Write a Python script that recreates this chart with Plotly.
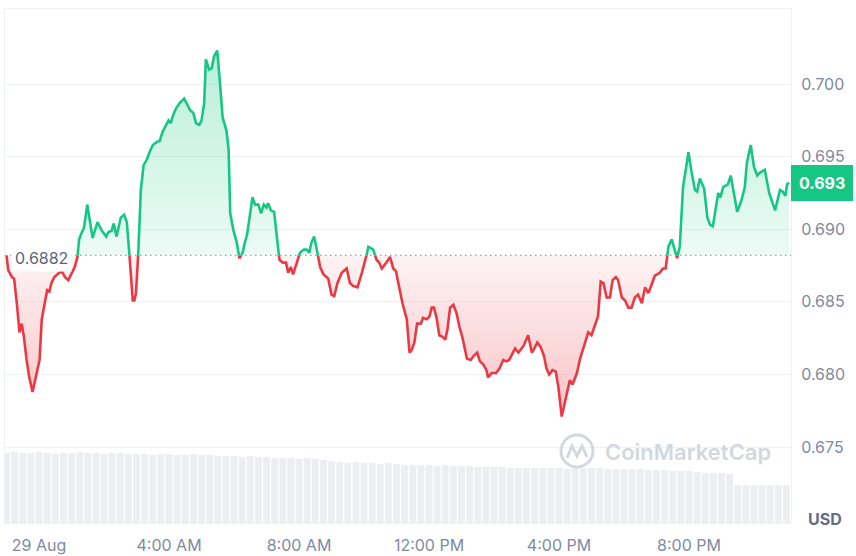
import numpy as np
import pandas as pd
import plotly.graph_objects as go

# ---------------- data ----------------
base_price = 0.6882
last_label = "0.693"

times = [
    "2023-08-28 23:00", "2023-08-28 23:03", "2023-08-28 23:10", "2023-08-28 23:14", "2023-08-28 23:19",
    "2023-08-28 23:24", "2023-08-28 23:28", "2023-08-28 23:32", "2023-08-28 23:37", "2023-08-28 23:42",
    "2023-08-28 23:48", "2023-08-28 23:56",
    "2023-08-29 00:01", "2023-08-29 00:05", "2023-08-29 00:11", "2023-08-29 00:15", "2023-08-29 00:19",
    "2023-08-29 00:23", "2023-08-29 00:28", "2023-08-29 00:33", "2023-08-29 00:37", "2023-08-29 00:42",
    "2023-08-29 00:48", "2023-08-29 00:54", "2023-08-29 01:00", "2023-08-29 01:06", "2023-08-29 01:11",
    "2023-08-29 01:14", "2023-08-29 01:19", "2023-08-29 01:23", "2023-08-29 01:29", "2023-08-29 01:34",
    "2023-08-29 01:39", "2023-08-29 01:48", "2023-08-29 01:56", "2023-08-29 02:04", "2023-08-29 02:08",
    "2023-08-29 02:14", "2023-08-29 02:18", "2023-08-29 02:23", "2023-08-29 02:31", "2023-08-29 02:37",
    "2023-08-29 02:42", "2023-08-29 02:47", "2023-08-29 02:53", "2023-08-29 02:56", "2023-08-29 02:59",
    "2023-08-29 03:03", "2023-08-29 03:08", "2023-08-29 03:13", "2023-08-29 03:19", "2023-08-29 03:24",
    "2023-08-29 03:30", "2023-08-29 03:37", "2023-08-29 03:43", "2023-08-29 03:48", "2023-08-29 03:54",
    "2023-08-29 03:59", "2023-08-29 04:03", "2023-08-29 04:08", "2023-08-29 04:14", "2023-08-29 04:20",
    "2023-08-29 04:28", "2023-08-29 04:34", "2023-08-29 04:39", "2023-08-29 04:45", "2023-08-29 04:50",
    "2023-08-29 04:56", "2023-08-29 05:00", "2023-08-29 05:05", "2023-08-29 05:08", "2023-08-29 05:14",
    "2023-08-29 05:19", "2023-08-29 05:23", "2023-08-29 05:29", "2023-08-29 05:34", "2023-08-29 05:39",
    "2023-08-29 05:46", "2023-08-29 05:50", "2023-08-29 05:53", "2023-08-29 05:59", "2023-08-29 06:05",
    "2023-08-29 06:10", "2023-08-29 06:16", "2023-08-29 06:20", "2023-08-29 06:24", "2023-08-29 06:34",
    "2023-08-29 06:39", "2023-08-29 06:45", "2023-08-29 06:50", "2023-08-29 06:55", "2023-08-29 07:00",
    "2023-08-29 07:03", "2023-08-29 07:08", "2023-08-29 07:14", "2023-08-29 07:19", "2023-08-29 07:24",
    "2023-08-29 07:30", "2023-08-29 07:36", "2023-08-29 07:40", "2023-08-29 07:45", "2023-08-29 07:49",
    "2023-08-29 07:56", "2023-08-29 08:02", "2023-08-29 08:09", "2023-08-29 08:14", "2023-08-29 08:19",
    "2023-08-29 08:23", "2023-08-29 08:28", "2023-08-29 08:34", "2023-08-29 08:39", "2023-08-29 08:45",
    "2023-08-29 08:54", "2023-08-29 09:00", "2023-08-29 09:05", "2023-08-29 09:11", "2023-08-29 09:19",
    "2023-08-29 09:28", "2023-08-29 09:34", "2023-08-29 09:40", "2023-08-29 09:48", "2023-08-29 09:56",
    "2023-08-29 10:04", "2023-08-29 10:08", "2023-08-29 10:17", "2023-08-29 10:23", "2023-08-29 10:28",
    "2023-08-29 10:33", "2023-08-29 10:41", "2023-08-29 10:48", "2023-08-29 10:54", "2023-08-29 10:59",
    "2023-08-29 11:05", "2023-08-29 11:11", "2023-08-29 11:19", "2023-08-29 11:24", "2023-08-29 11:28",
    "2023-08-29 11:33", "2023-08-29 11:38", "2023-08-29 11:45", "2023-08-29 11:49", "2023-08-29 11:56",
    "2023-08-29 12:01", "2023-08-29 12:05", "2023-08-29 12:09", "2023-08-29 12:14", "2023-08-29 12:19",
    "2023-08-29 12:25", "2023-08-29 12:30", "2023-08-29 12:34", "2023-08-29 12:39", "2023-08-29 12:45",
    "2023-08-29 12:51", "2023-08-29 12:56", "2023-08-29 13:02", "2023-08-29 13:10", "2023-08-29 13:17",
    "2023-08-29 13:23", "2023-08-29 13:29", "2023-08-29 13:34", "2023-08-29 13:40", "2023-08-29 13:46",
    "2023-08-29 13:49", "2023-08-29 13:56", "2023-08-29 14:04", "2023-08-29 14:10", "2023-08-29 14:17",
    "2023-08-29 14:23", "2023-08-29 14:28", "2023-08-29 14:34", "2023-08-29 14:39", "2023-08-29 14:45",
    "2023-08-29 14:51", "2023-08-29 14:55", "2023-08-29 15:03", "2023-08-29 15:10", "2023-08-29 15:16",
    "2023-08-29 15:20", "2023-08-29 15:26", "2023-08-29 15:32", "2023-08-29 15:37", "2023-08-29 15:42",
    "2023-08-29 15:48", "2023-08-29 15:54", "2023-08-29 15:59", "2023-08-29 16:05", "2023-08-29 16:14",
    "2023-08-29 16:20", "2023-08-29 16:25", "2023-08-29 16:33", "2023-08-29 16:39", "2023-08-29 16:46",
    "2023-08-29 16:54", "2023-08-29 17:00", "2023-08-29 17:06", "2023-08-29 17:12", "2023-08-29 17:17",
    "2023-08-29 17:22", "2023-08-29 17:28", "2023-08-29 17:34", "2023-08-29 17:39", "2023-08-29 17:45",
    "2023-08-29 17:49", "2023-08-29 17:56", "2023-08-29 18:02", "2023-08-29 18:08", "2023-08-29 18:14",
    "2023-08-29 18:20", "2023-08-29 18:26", "2023-08-29 18:33", "2023-08-29 18:39", "2023-08-29 18:45",
    "2023-08-29 18:51", "2023-08-29 18:57", "2023-08-29 19:06", "2023-08-29 19:12", "2023-08-29 19:17",
    "2023-08-29 19:22", "2023-08-29 19:28", "2023-08-29 19:34", "2023-08-29 19:38", "2023-08-29 19:43",
    "2023-08-29 19:49", "2023-08-29 19:59", "2023-08-29 20:05", "2023-08-29 20:11", "2023-08-29 20:15",
    "2023-08-29 20:20", "2023-08-29 20:28", "2023-08-29 20:34", "2023-08-29 20:39", "2023-08-29 20:44",
    "2023-08-29 20:54", "2023-08-29 20:58", "2023-08-29 21:03", "2023-08-29 21:12", "2023-08-29 21:17",
    "2023-08-29 21:29", "2023-08-29 21:37", "2023-08-29 21:43", "2023-08-29 21:47", "2023-08-29 21:54",
    "2023-08-29 22:00", "2023-08-29 22:06", "2023-08-29 22:11", "2023-08-29 22:20", "2023-08-29 22:28",
    "2023-08-29 22:33", "2023-08-29 22:39", "2023-08-29 22:48", "2023-08-29 22:53", "2023-08-29 22:58",
    "2023-08-29 23:01", "2023-08-29 23:05",
]

prices = [
    0.6882, 0.6872, 0.6867, 0.6866, 0.6849, 0.6829, 0.6835, 0.6826, 0.6810, 0.6798,
    0.6788, 0.6801,
    0.6810, 0.6838, 0.6849, 0.6858, 0.6857, 0.6863, 0.6867, 0.6869, 0.6870, 0.6871,
    0.6867, 0.6865, 0.6870, 0.6874, 0.6881, 0.6893, 0.6898, 0.6901, 0.6917, 0.6904,
    0.6894, 0.6905, 0.6899, 0.6895, 0.6898, 0.6899, 0.6904, 0.6895, 0.6908, 0.6910,
    0.6905, 0.6882, 0.6851, 0.6851, 0.6856, 0.6882, 0.6927, 0.6944, 0.6948, 0.6953,
    0.6958, 0.6960, 0.6961, 0.6967, 0.6971, 0.6975, 0.6973, 0.6979, 0.6984, 0.6987,
    0.6990, 0.6986, 0.6982, 0.6980, 0.6973, 0.6972, 0.6975, 0.6987, 0.7017, 0.7010,
    0.7011, 0.7019, 0.7023, 0.7001, 0.6977, 0.6968, 0.6955, 0.6911, 0.6899, 0.6891,
    0.6880, 0.6884, 0.6891, 0.6896, 0.6922, 0.6917, 0.6917, 0.6911, 0.6917, 0.6915,
    0.6918, 0.6913, 0.6912, 0.6893, 0.6879, 0.6877, 0.6877, 0.6870, 0.6874, 0.6869,
    0.6877, 0.6884, 0.6886, 0.6886, 0.6884, 0.6891, 0.6895, 0.6884, 0.6874, 0.6869,
    0.6866, 0.6855, 0.6854, 0.6863, 0.6870, 0.6873, 0.6863, 0.6861, 0.6860, 0.6870,
    0.6881, 0.6888, 0.6886, 0.6879, 0.6877, 0.6873, 0.6877, 0.6881, 0.6873, 0.6871,
    0.6860, 0.6849, 0.6838, 0.6815, 0.6817, 0.6822, 0.6835, 0.6835, 0.6839, 0.6838,
    0.6840, 0.6846, 0.6846, 0.6839, 0.6827, 0.6826, 0.6824, 0.6831, 0.6846, 0.6848,
    0.6842, 0.6833, 0.6825, 0.6811, 0.6810, 0.6813, 0.6815, 0.6809, 0.6807, 0.6803,
    0.6798, 0.6801, 0.6801, 0.6804, 0.6810, 0.6809, 0.6810, 0.6815, 0.6818, 0.6815,
    0.6818, 0.6820, 0.6827, 0.6815, 0.6819, 0.6822, 0.6819, 0.6813, 0.6804, 0.6800,
    0.6803, 0.6802, 0.6791, 0.6771, 0.6786, 0.6796, 0.6793, 0.6801, 0.6811, 0.6819,
    0.6829, 0.6827, 0.6833, 0.6840, 0.6864, 0.6863, 0.6853, 0.6853, 0.6865, 0.6867,
    0.6865, 0.6853, 0.6851, 0.6846, 0.6846, 0.6853, 0.6855, 0.6849, 0.6860, 0.6856,
    0.6862, 0.6868, 0.6870, 0.6873, 0.6873, 0.6888, 0.6893, 0.6886, 0.6880, 0.6888,
    0.6929, 0.6953, 0.6939, 0.6927, 0.6926, 0.6935, 0.6928, 0.6908, 0.6903, 0.6902,
    0.6925, 0.6922, 0.6929, 0.6931, 0.6937, 0.6912, 0.6920, 0.6929, 0.6946, 0.6958,
    0.6943, 0.6937, 0.6939, 0.6941, 0.6925, 0.6920, 0.6913, 0.6927, 0.6926, 0.6923,
    0.6931, 0.6932,
]

volume_start = "2023-08-28 23:00"
volume_step = "15min"
volume = [
    70, 71, 70, 70, 71, 70, 69, 70, 70, 71, 70, 70, 69, 70, 70, 69, 69,
    69, 68, 69, 69, 68, 68, 69, 68, 68, 67, 67,
    67, 66, 67, 66, 66, 65,
    65, 65, 64, 65, 64, 63, 62,
    61, 60, 61, 60, 60, 59, 60, 59, 58, 58,
    58, 58, 57, 58, 57, 57, 57, 56, 56, 56, 56, 55,
    55, 55, 55, 55, 55, 55, 54, 55, 55, 55, 55, 54, 54, 54, 54, 54, 53,
    53, 53, 52, 52, 52, 51,
    50, 50, 50, 49,
    38, 38, 38, 38, 38, 38, 38,
]

x_tick_times = ["2023-08-29 00:00", "2023-08-29 04:00", "2023-08-29 08:00",
                "2023-08-29 12:00", "2023-08-29 16:00", "2023-08-29 20:00"]
x_tick_text = ["29 Aug", "4:00 AM", "8:00 AM", "12:00 PM", "4:00 PM", "8:00 PM"]
y_tick_vals = [0.675, 0.680, 0.685, 0.690, 0.695, 0.700]
y_tick_text = ["0.675", "0.680", "0.685", "0.690", "0.695", "0.700"]

# ---------------- styling ----------------
GREEN = "#16c784"
RED = "#ea3943"
GRID = "#eff2f5"
TICK = "#808a9d"
W, H = 856, 556
ML, MR, MT, MB = 5, 65, 9, 33

# split series at the baseline (insert crossing points)
t_ns = pd.to_datetime(times).asi8.astype(float)
xs, ys = [], []
for i, p in enumerate(prices):
    if i > 0:
        p0 = prices[i - 1]
        if (p0 - base_price) * (p - base_price) < 0:
            f = (base_price - p0) / (p - p0)
            xs.append(t_ns[i - 1] + f * (t_ns[i] - t_ns[i - 1]))
            ys.append(base_price)
    xs.append(t_ns[i])
    ys.append(p)
xd = pd.to_datetime(np.array(xs).astype("int64"))
upper = [max(v, base_price) for v in ys]
lower = [min(v, base_price) for v in ys]
green_line = [v if v >= base_price else None for v in ys]
red_line = [v if v <= base_price else None for v in ys]
basel = [base_price] * len(ys)

fig = go.Figure()

# volume bars (hidden overlay axis)
vol_x = pd.date_range(volume_start, periods=len(volume), freq=volume_step)
fig.add_trace(go.Bar(x=vol_x, y=volume, yaxis="y2", marker=dict(color="#eceef2", line=dict(width=0)),
                     hoverinfo="skip", showlegend=False))

# fills
fig.add_trace(go.Scatter(x=xd, y=basel, mode="lines", line=dict(width=0), hoverinfo="skip", showlegend=False))
fig.add_trace(go.Scatter(x=xd, y=upper, mode="lines", line=dict(width=0), fill="tonexty",
                         fillgradient=dict(type="vertical", start=base_price, stop=max(prices),
                                           colorscale=[[0, "rgba(22,199,132,0.08)"], [1, "rgba(22,199,132,0.30)"]]),
                         hoverinfo="skip", showlegend=False))
fig.add_trace(go.Scatter(x=xd, y=basel, mode="lines", line=dict(width=0), hoverinfo="skip", showlegend=False))
fig.add_trace(go.Scatter(x=xd, y=lower, mode="lines", line=dict(width=0), fill="tonexty",
                         fillgradient=dict(type="vertical", start=min(prices), stop=base_price,
                                           colorscale=[[0, "rgba(234,57,67,0.30)"], [1, "rgba(234,57,67,0.06)"]]),
                         hoverinfo="skip", showlegend=False))
# lines
fig.add_trace(go.Scatter(x=xd, y=green_line, mode="lines", line=dict(color=GREEN, width=2.6),
                         connectgaps=False, hoverinfo="skip", showlegend=False))
fig.add_trace(go.Scatter(x=xd, y=red_line, mode="lines", line=dict(color=RED, width=2.6),
                         connectgaps=False, hoverinfo="skip", showlegend=False))

# baseline dotted
fig.add_shape(type="line", xref="paper", x0=0, x1=1, yref="y", y0=base_price, y1=base_price,
              line=dict(color="#98a1b3", width=1.2, dash="1.5px,3.5px"))

pw, ph = W - ML - MR, H - MT - MB
def px(x):
    return (x - ML) / pw
def py(y):
    return (H - MB - y) / ph

# watermark logo
wm = "#d3d7de"
fig.add_shape(type="circle", xref="paper", yref="paper", x0=px(561), x1=px(593), y0=py(467), y1=py(435),
              line=dict(color=wm, width=3), layer="above")
pts = [(567, 458), (572, 446), (577, 456), (582, 446), (587, 457)]
path = "M " + " L ".join(f"{px(a):.5f},{py(b):.5f}" for a, b in pts)
fig.add_shape(type="path", xref="paper", yref="paper", path=path, line=dict(color=wm, width=3), layer="above")
fig.add_annotation(xref="paper", yref="paper", x=px(603), y=py(452), xanchor="left", yanchor="middle",
                   text="CoinMarketCap", showarrow=False,
                   font=dict(family="Inter", size=22, color=wm, weight=600))

# baseline label
fig.add_annotation(xref="paper", yref="y", x=0, y=base_price, xanchor="left", yanchor="middle",
                   text=f"{base_price:.4f}", showarrow=False, bgcolor="white", borderpad=3, xshift=6, yshift=-3,
                   font=dict(family="Inter", size=16, color="#58667e"))
# current price tag
fig.add_annotation(xref="paper", yref="y", x=1, y=prices[-1], xanchor="left", yanchor="middle",
                   text=f"<b>{last_label}</b>", showarrow=False, bgcolor=GREEN, bordercolor=GREEN,
                   borderpad=7, font=dict(family="Inter", size=16, color="white"))
# currency label
fig.add_annotation(xref="paper", yref="paper", x=1, y=0, xanchor="left", yanchor="bottom",
                   text="<b>USD</b>", showarrow=False, xshift=15, yshift=-8,
                   font=dict(family="Inter", size=16, color="#616e85"))

fig.update_layout(
    width=W, height=H, margin=dict(l=ML, r=MR, t=MT, b=MB, autoexpand=False),
    paper_bgcolor="white", plot_bgcolor="white", showlegend=False, hovermode=False,
    font=dict(family="Inter, sans-serif", size=16, color=TICK),
    bargap=0.15,
    xaxis=dict(range=["2023-08-28 22:57:10", "2023-08-29 23:08:20"], tickvals=x_tick_times,
               ticktext=x_tick_text, showgrid=False, zeroline=False, showline=True, linecolor=GRID,
               mirror=True, ticks="outside", ticklen=8, tickcolor="rgba(0,0,0,0)", automargin=False),
    yaxis=dict(side="right", range=[0.66977, 0.70517], tickvals=y_tick_vals, ticktext=y_tick_text,
               gridcolor=GRID, zeroline=False, showline=True, linecolor=GRID, mirror=True,
               ticks="outside", ticklen=6, tickcolor="rgba(0,0,0,0)", automargin=False),
    yaxis2=dict(overlaying="y", range=[0, 514], visible=False),
)

fig.write_html("out.html", config={"displayModeBar": False},
               post_script="document.body.style.margin='0';document.body.style.overflow='hidden';")
